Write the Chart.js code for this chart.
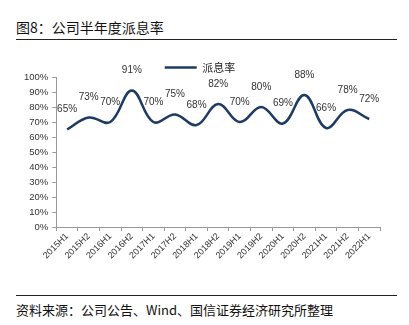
<!DOCTYPE html>
<html>
<head>
<meta charset="utf-8">
<script src="https://cdn.jsdelivr.net/npm/chart.js@4"></script>
<style>
  body { margin: 0; width: 409px; height: 325px; background: #fff; position: relative; overflow: hidden; }
  .title { position: absolute; left: 16px; top: 17px; font: 14px "Noto Sans CJK SC", sans-serif; color: #111; }
  .rule { position: absolute; left: 16px; width: 381px; height: 0; border-top: 1.5px solid #222; }
  .source { position: absolute; left: 16px; top: 300px; font: 13px "Noto Sans CJK SC", sans-serif; color: #111; }
  #wrap { position: absolute; left: 0; top: 44px; width: 409px; height: 250px; }
</style>
</head>
<body>
<div class="title">图8：公司半年度派息率</div>
<div class="rule" style="top:39px"></div>
<div id="wrap"><canvas id="chart"></canvas></div>
<div class="rule" style="top:295px"></div>
<div class="source">资料来源：公司公告、Wind、国信证券经济研究所整理</div>
<script>
const periods = ['2015H1', '2015H2', '2016H1', '2016H2', '2017H1', '2017H2', '2018H1', '2018H2',
                 '2019H1', '2019H2', '2020H1', '2020H2', '2021H1', '2021H2', '2022H1'];
const payoutRatio = [65, 73, 70, 91, 70, 75, 68, 82, 70, 80, 69, 88, 66, 78, 72];
const yTicks = [0, 10, 20, 30, 40, 50, 60, 70, 80, 90, 100];

// value labels above each point
const pointLabels = {
  id: 'pointLabels',
  afterDatasetsDraw(chart) {
    const ctx = chart.ctx;
    const meta = chart.getDatasetMeta(0);
    ctx.save();
    ctx.font = '10px "Liberation Sans", Arial, sans-serif';
    ctx.fillStyle = '#333';
    ctx.textAlign = 'center';
    ctx.textBaseline = 'middle';
    meta.data.forEach((pt, i) => {
      ctx.fillText(payoutRatio[i] + '%', pt.x, pt.y - 20);
    });
    ctx.restore();
  }
};

// nudge the legend down a little, closer to the plot
const legendNudge = {
  id: 'legendNudge',
  afterLayout(chart) {
    chart.legend.top += 6;
    chart.legend.bottom += 6;
  }
};

new Chart(document.getElementById('chart'), {
  type: 'line',
  data: {
    labels: periods,
    datasets: [{
      label: '派息率',
      data: payoutRatio,
      borderColor: '#1f3b64',
      backgroundColor: '#1f3b64',
      borderWidth: 2.5,
      tension: 0.4,
      pointRadius: 0
    }]
  },
  options: {
    responsive: true,
    maintainAspectRatio: false,
    animation: false,
    layout: { padding: { left: 20, right: 29, top: 12, bottom: 33 } },
    plugins: {
      legend: {
        labels: {
          usePointStyle: true,
          pointStyle: 'line',
          pointStyleWidth: 32,
          color: '#222',
          padding: 0,
          font: { size: 11, family: '"Noto Sans CJK SC", sans-serif' }
        }
      },
      tooltip: { enabled: false }
    },
    scales: {
      x: {
        offset: true,
        grid: { display: true, drawOnChartArea: false, offset: true, tickLength: 4, color: '#999' },
        border: { color: '#999' },
        ticks: {
          maxRotation: 45, minRotation: 45, autoSkip: false,
          color: '#333', padding: 0,
          font: { size: 9, family: '"Liberation Sans", Arial, sans-serif' }
        }
      },
      y: {
        min: 0, max: 100,
        afterBuildTicks(axis) { axis.ticks = yTicks.map(v => ({ value: v })); },
        grid: { display: true, drawOnChartArea: false, tickLength: 4, color: '#999' },
        border: { color: '#999' },
        ticks: {
          color: '#333', padding: 4,
          callback: v => v + '%',
          font: { size: 9.5, family: '"Liberation Sans", Arial, sans-serif' }
        }
      }
    }
  },
  plugins: [pointLabels, legendNudge]
});
</script>
</body>
</html>
